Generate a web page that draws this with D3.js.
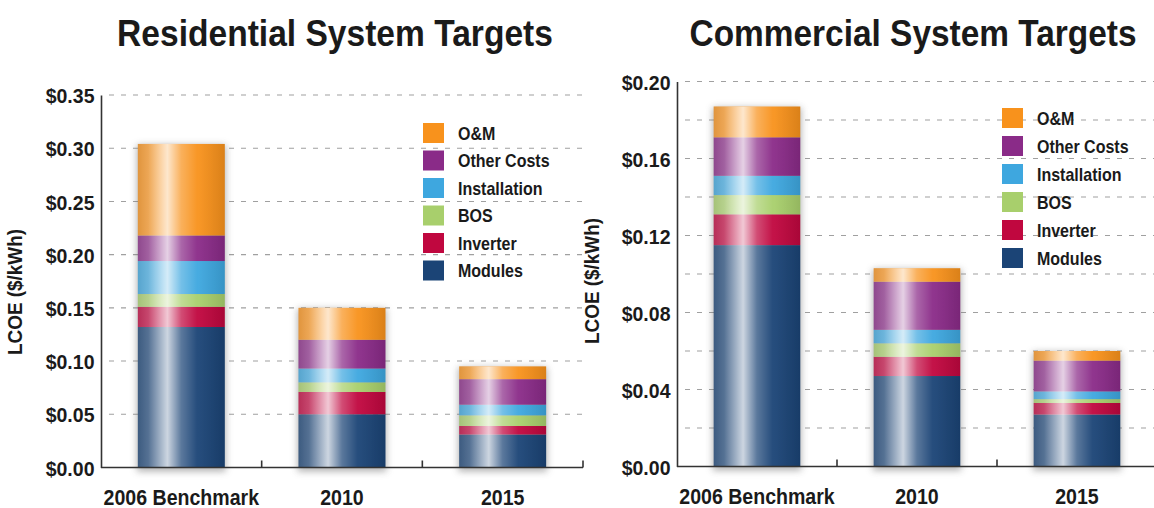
<!DOCTYPE html>
<html>
<head>
<meta charset="utf-8">
<script src="https://cdn.jsdelivr.net/npm/d3@7"></script>
<style>
  html, body { margin: 0; padding: 0; background: #ffffff; }
  svg text { font-family: "Liberation Sans", Arial, sans-serif; font-weight: bold; fill: #1a1a1a; }
</style>
</head>
<body>
<svg id="chart" width="1154" height="508"></svg>
<script>
// Cost categories on the x axis
const categories = ["2006 Benchmark", "2010", "2015"];

// Cost components, stacked bottom to top
const components = ["Modules", "Inverter", "BOS", "Installation", "Other Costs", "O&M"];
const componentColors = ["#1b4476", "#c0073f", "#a8cf6c", "#3ea7df", "#8a2b88", "#f8921c"];

// Residential LCOE components ($/kWh)
const resModules      = [0.132, 0.050, 0.031];
const resInverter     = [0.019, 0.021, 0.008];
const resBOS          = [0.012, 0.009, 0.010];
const resInstallation = [0.031, 0.013, 0.010];
const resOther        = [0.024, 0.027, 0.024];
const resOM           = [0.086, 0.030, 0.012];

// Commercial LCOE components ($/kWh)
const comModules      = [0.115, 0.047, 0.027];
const comInverter     = [0.016, 0.010, 0.006];
const comBOS          = [0.010, 0.007, 0.002];
const comInstallation = [0.010, 0.007, 0.004];
const comOther        = [0.020, 0.025, 0.016];
const comOM           = [0.016, 0.007, 0.005];

// Axis ticks
const resTicks = [0, 0.05, 0.10, 0.15, 0.20, 0.25, 0.30, 0.35];
const resGrid  = [0.05, 0.10, 0.15, 0.20, 0.25, 0.30, 0.35];
const comTicks = [0, 0.04, 0.08, 0.12, 0.16, 0.20];
const comGrid  = [0.02, 0.04, 0.06, 0.08, 0.10, 0.12, 0.14, 0.16, 0.18, 0.20];

const svg = d3.select("#chart");
const defs = svg.append("defs");

// Narrow the type horizontally, keeping its height
function condense(sel, k) {
  sel.each(function () {
    const t = d3.select(this);
    const x = +t.attr("x") || 0, y = +t.attr("y") || 0;
    t.attr("x", 0).attr("y", 0)
      .attr("transform", `translate(${x},${y}) scale(${k},1)`);
  });
}

// Horizontal sheen laid over each bar
const sheen = defs.append("linearGradient").attr("id", "sheen")
  .attr("x1", "0%").attr("x2", "100%").attr("y1", "0%").attr("y2", "0%");
[[0, 0.16], [12, 0.26], [34, 0.78], [50, 0.28], [68, 0.05], [100, 0.0]].forEach(([o, a]) =>
  sheen.append("stop").attr("offset", o + "%").attr("stop-color", "#ffffff").attr("stop-opacity", a));
const shade = defs.append("linearGradient").attr("id", "shade")
  .attr("x1", "0%").attr("x2", "100%").attr("y1", "0%").attr("y2", "0%");
[[0, 0.12], [30, 0.0], [70, 0.0], [100, 0.12]].forEach(([o, a]) =>
  shade.append("stop").attr("offset", o + "%").attr("stop-color", "#000000").attr("stop-opacity", a));

// Soft shadow behind bars
defs.append("filter").attr("id", "soft").attr("x", "-30%").attr("y", "-30%").attr("width", "160%").attr("height", "160%")
  .append("feGaussianBlur").attr("stdDeviation", 3.5);

function drawPanel(opt) {
  const series = opt.series;
  const x = d3.scaleBand().domain(categories).range([opt.x0, opt.x1])
    .paddingInner(0.459).paddingOuter(0.2295);
  const y = d3.scaleLinear().domain([0, opt.yMax]).range([opt.yBase, opt.yTop]);
  const g = svg.append("g");

  // Title, narrowed to its set width
  const title = g.append("text").attr("x", opt.titleX).attr("y", 46)
    .attr("text-anchor", "middle").attr("font-size", 37).attr("fill", "#111")
    .text(opt.title);
  const natural = title.node().getComputedTextLength();
  condense(title, opt.titleW / natural);

  // Dashed gridlines
  g.selectAll(".grid").data(opt.grid).join("line")
    .attr("x1", opt.x0 + 8).attr("x2", opt.gridEnd)
    .attr("y1", d => y(d)).attr("y2", d => y(d))
    .attr("stroke", "#a0a0a0").attr("stroke-width", 1.1)
    .attr("stroke-dasharray", "5,7");

  // Stacked data
  const rows = categories.map((c, i) => {
    const r = { cat: c };
    components.forEach((k, j) => r[k] = series[j][i]);
    return r;
  });
  const stack = d3.stack().keys(components)(rows);
  const totals = rows.map(r => d3.sum(components, k => r[k]));

  // Shadows
  g.selectAll(".shadow").data(categories).join("rect")
    .attr("x", d => x(d) - 1).attr("width", x.bandwidth() + 2)
    .attr("y", (d, i) => y(totals[i]) + 1).attr("height", (d, i) => y(0) - y(totals[i]) + 3)
    .attr("fill", "#6b6b6b").attr("opacity", 0.5).attr("filter", "url(#soft)");

  // Segments
  stack.forEach((layer, j) => {
    g.selectAll(".seg" + j).data(layer).join("rect")
      .attr("x", d => x(d.data.cat)).attr("width", x.bandwidth())
      .attr("y", d => y(d[1])).attr("height", d => y(d[0]) - y(d[1]))
      .attr("fill", componentColors[j]);
  });

  // Cylinder sheen over each bar
  ["url(#shade)", "url(#sheen)"].forEach(f => {
    g.selectAll(null).data(categories).join("rect")
      .attr("x", d => x(d)).attr("width", x.bandwidth())
      .attr("y", (d, i) => y(totals[i])).attr("height", (d, i) => y(0) - y(totals[i]))
      .attr("fill", f);
  });

  // Y axis
  const yAxis = d3.axisLeft(y).tickValues(opt.ticks).tickSize(0).tickPadding(7)
    .tickFormat(d => "$" + d3.format(".2f")(d));
  const ya = g.append("g").attr("transform", `translate(${opt.x0},0)`).call(yAxis);
  ya.select(".domain").attr("stroke", "#333").attr("stroke-width", 1.6);
  ya.selectAll("text").attr("font-size", 21).attr("fill", "#1a1a1a").attr("dy", "0.36em")
    .attr("transform", "scale(0.93,1)");

  // X axis baseline with boundary ticks
  const xa = g.append("g").attr("transform", `translate(0,${opt.yBase})`);
  xa.append("line").attr("x1", opt.x0).attr("x2", opt.x1).attr("stroke", "#333").attr("stroke-width", 1.6);
  const step = x.step();
  const bounds = [1, 2, 3].map(k => opt.x0 + step * k).filter(v => v <= opt.tickEnd);
  xa.selectAll(".bt").data(bounds).join("line")
    .attr("x1", d => d).attr("x2", d => d).attr("y1", 0).attr("y2", -7)
    .attr("stroke", "#333").attr("stroke-width", 1.6);
  const cl = xa.selectAll(".cl").data(categories).join("text")
    .attr("x", d => x(d) + x.bandwidth() / 2).attr("y", 37)
    .attr("text-anchor", "middle").attr("font-size", 21.5).text(d => d);
  condense(cl, 0.91);

  // Y axis title
  g.append("text").attr("transform", `translate(${opt.yLabelX},${opt.yLabelY}) rotate(-90) scale(0.97,1)`)
    .attr("text-anchor", "middle").attr("font-size", 19.5).text("LCOE ($/kWh)");

  // Legend, top to bottom O&M ... Modules
  const legendItems = components.map((k, j) => ({ k, c: componentColors[j] })).reverse();
  const lg = g.append("g").attr("transform", `translate(${opt.legX},${opt.legY})`);
  lg.selectAll("rect").data(legendItems).join("rect")
    .attr("x", 0).attr("y", (d, i) => i * opt.legStep - 10)
    .attr("width", 21).attr("height", 20).attr("fill", d => d.c);
  const lt = lg.selectAll("text").data(legendItems).join("text")
    .attr("x", 35).attr("y", (d, i) => i * opt.legStep + 6.5)
    .attr("font-size", 18).text(d => d.k);
  condense(lt, 0.89);
}

drawPanel({
  title: "Residential System Targets", titleX: 335, titleW: 436,
  series: [resModules, resInverter, resBOS, resInstallation, resOther, resOM],
  x0: 101, x1: 583, yBase: 467.5, yTop: 95, yMax: 0.35,
  ticks: resTicks, grid: resGrid, gridEnd: 583, tickEnd: 590,
  yLabelX: 22, yLabelY: 292,
  legX: 423, legY: 133, legStep: 27.5
});

drawPanel({
  title: "Commercial System Targets", titleX: 913, titleW: 447,
  series: [comModules, comInverter, comBOS, comInstallation, comOther, comOM],
  x0: 677, x1: 1157, yBase: 466.5, yTop: 81.5, yMax: 0.20,
  ticks: comTicks, grid: comGrid, gridEnd: 1154, tickEnd: 1100,
  yLabelX: 599, yLabelY: 281,
  legX: 1002, legY: 118, legStep: 28
});
</script>
</body>
</html>
